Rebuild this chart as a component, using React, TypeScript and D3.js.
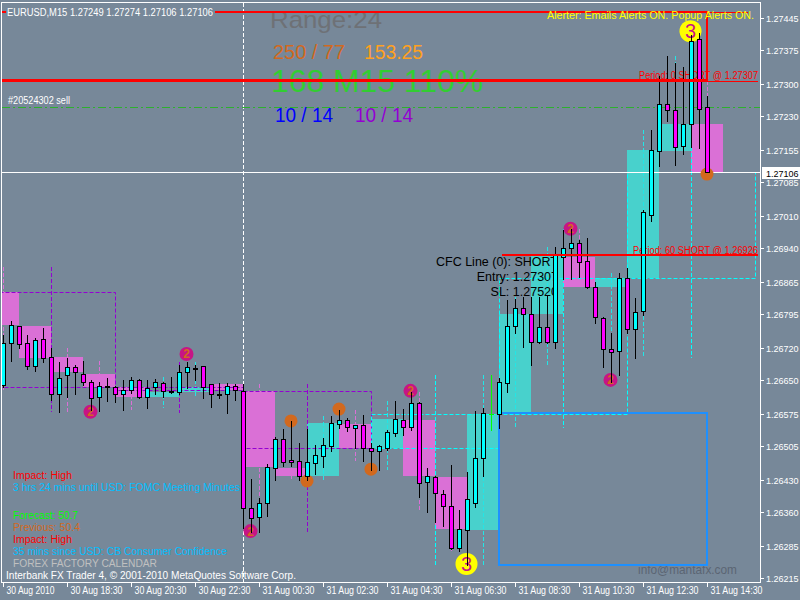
import React from "react";
import * as d3 from "d3";

// M15 bars, first entry is bar index -2 (off the left edge)
const FIRST_BAR = -2;
const opens = [
  1.26843, 1.26771, 1.26639, 1.26731, 1.26768, 1.26731, 1.26681, 1.2674, 1.267, 1.26619,
  1.26661, 1.26678, 1.26663, 1.26645, 1.26613, 1.26637, 1.26634, 1.26619, 1.26628, 1.2665,
  1.26613, 1.26634, 1.26643, 1.26626, 1.26624, 1.26667, 1.26676, 1.26681, 1.26641, 1.26619,
  1.26619, 1.26637, 1.26626, 1.26369, 1.26349, 1.2638, 1.26457, 1.2652, 1.26474, 1.26472,
  1.26439, 1.26468, 1.26483, 1.26505, 1.26553, 1.26562, 1.26544, 1.26551, 1.26501, 1.26494,
  1.26501, 1.26533, 1.26562, 1.26547, 1.26599, 1.26426, 1.26437, 1.26399, 1.26373, 1.26281,
  1.2632, 1.2638, 1.26479, 1.26575, 1.26575, 1.26643, 1.26768, 1.26808, 1.26795, 1.26733,
  1.26766, 1.26733, 1.2692, 1.2694, 1.26951, 1.26911, 1.26854, 1.26786, 1.26718, 1.26714,
  1.26874, 1.26762, 1.26801, 1.27012, 1.27153, 1.27256, 1.27243, 1.27164, 1.27212, 1.27399,
  1.27249,
];
const highs = [
  1.26898, 1.26782, 1.26749, 1.26779, 1.26768, 1.26749, 1.26742, 1.26764, 1.2672, 1.26689,
  1.26698, 1.26683, 1.26692, 1.2665, 1.26645, 1.26654, 1.26637, 1.2665, 1.26656, 1.26652,
  1.2665, 1.26652, 1.26645, 1.26656, 1.26683, 1.26689, 1.26683, 1.26681, 1.26641, 1.26643,
  1.26643, 1.26641, 1.26641, 1.26432, 1.26391, 1.26465, 1.26525, 1.26542, 1.2656, 1.26511,
  1.26542, 1.26507, 1.26522, 1.26571, 1.26584, 1.26566, 1.26551, 1.26573, 1.26511, 1.26507,
  1.2654, 1.26604, 1.26586, 1.26624, 1.26602, 1.26457, 1.26439, 1.26408, 1.26463, 1.26364,
  1.26448, 1.26582, 1.26588, 1.26661, 1.26654, 1.26826, 1.26828, 1.26832, 1.26832, 1.26832,
  1.26837, 1.26942, 1.26979, 1.26982, 1.26957, 1.26962, 1.26865, 1.26788, 1.26753, 1.26885,
  1.26896, 1.2683, 1.27023, 1.27199, 1.27318, 1.27362, 1.27346, 1.27337, 1.27408, 1.27412,
  1.27274,
];
const lows = [
  1.2676, 1.26628, 1.26634, 1.26692, 1.2672, 1.26674, 1.2667, 1.26689, 1.26606, 1.2658,
  1.26613, 1.26619, 1.26639, 1.26584, 1.26582, 1.26604, 1.26602, 1.26584, 1.26621, 1.2661,
  1.26588, 1.26619, 1.26613, 1.26621, 1.26619, 1.26632, 1.2665, 1.2661, 1.26591, 1.2661,
  1.26577, 1.26606, 1.26325, 1.26316, 1.26316, 1.26351, 1.2643, 1.26461, 1.26461, 1.2643,
  1.2643, 1.26443, 1.26459, 1.26494, 1.26544, 1.26538, 1.26501, 1.26472, 1.26452, 1.26452,
  1.26496, 1.26527, 1.26529, 1.2654, 1.26393, 1.2636, 1.26338, 1.26329, 1.26279, 1.26274,
  1.26244, 1.26371, 1.26439, 1.2654, 1.26544, 1.26624, 1.26753, 1.26722, 1.26683, 1.26731,
  1.26731, 1.2672, 1.26872, 1.26872, 1.26876, 1.26852, 1.26775, 1.26678, 1.26645, 1.26661,
  1.26753, 1.26698, 1.26793, 1.26999, 1.2712, 1.27219, 1.27122, 1.27146, 1.27162, 1.27159,
  1.27106,
];
const closes = [
  1.26771, 1.26639, 1.26731, 1.26771, 1.26729, 1.26681, 1.26738, 1.26698, 1.26619, 1.26654,
  1.26678, 1.26667, 1.26645, 1.2661, 1.26637, 1.26634, 1.26619, 1.26628, 1.2665, 1.26613,
  1.26632, 1.26645, 1.26626, 1.26624, 1.26667, 1.26678, 1.26674, 1.26634, 1.26619, 1.26617,
  1.26637, 1.26628, 1.26369, 1.26347, 1.2638, 1.26459, 1.2652, 1.2647, 1.2647, 1.26439,
  1.2647, 1.26485, 1.26507, 1.26555, 1.26562, 1.26547, 1.26551, 1.26501, 1.26494, 1.26505,
  1.26536, 1.26564, 1.26547, 1.26599, 1.26424, 1.26439, 1.26402, 1.26373, 1.26281, 1.26323,
  1.26389, 1.26479, 1.26577, 1.26575, 1.26645, 1.26768, 1.26808, 1.26795, 1.26733, 1.26766,
  1.26733, 1.26924, 1.2694, 1.26951, 1.26909, 1.26854, 1.26788, 1.26718, 1.26711, 1.26874,
  1.26762, 1.26799, 1.27019, 1.27155, 1.27256, 1.27243, 1.27162, 1.27212, 1.27394, 1.27245,
  1.27106,
];

const priceLabels = [
  "1.27445", "1.27375", "1.27300", "1.27230", "1.27155", "1.27085", "1.27010", "1.26940",
  "1.26865", "1.26795", "1.26720", "1.26650", "1.26575", "1.26505", "1.26430", "1.26360",
  "1.26285", "1.26215",
];
const timeLabelBars = [0, 8, 16, 24, 32, 40, 48, 56, 64, 72, 80, 88];
const timeLabels = [
  "30 Aug 2010", "30 Aug 18:30", "30 Aug 20:30", "30 Aug 22:30", "31 Aug 00:30", "31 Aug 02:30",
  "31 Aug 04:30", "31 Aug 06:30", "31 Aug 08:30", "31 Aug 10:30", "31 Aug 12:30", "31 Aug 14:30",
];

// signal markers
const marker2Bars = [11, 23, 31, 51, 71, 76];
const marker2Prices = [1.2658, 1.26707, 1.26318, 1.26626, 1.26982, 1.2665];
const marker1Bars = [36, 38, 42, 46, 88];
const marker1Prices = [1.2656, 1.26428, 1.26586, 1.26454, 1.27102];
const marker3Bars = [86, 58];
const marker3Prices = [1.27416, 1.26246];

const currentPrice = 1.27106;
const orderPrice = 1.2725;
const period0Price = 1.27307;
const period60Price = 1.26926;
const redBoxTop = 1.27458;
const redBoxBottom = 1.27309;
const redBoxEndBar = 88;
const blueBoxTop = 1.26577;
const blueBoxBottom = 1.26244;
const blueBoxStartBar = 62;
const blueBoxEndBar = 88;
const daySeparatorBar = 30;

const calendarLines = [
  { text: "Impact: High", color: "#FF0000", y: 479, len: 59 },
  { text: "3 hrs 24 mins until USD: FOMC Meeting Minutes", color: "#00BFFF", y: 491, len: 227 },
  { text: "Forecast: 50.7", color: "#00FF00", y: 519, len: 65 },
  { text: "Previous: 50.4", color: "#D2691E", y: 531, len: 67 },
  { text: "Impact: High", color: "#FF0000", y: 543, len: 59 },
  { text: "35 mins since USD: CB Consumer Confidence", color: "#00BFFF", y: 555, len: 214 },
  { text: "FOREX FACTORY CALENDAR", color: "#C0C0C0", y: 567, len: 144 },
];

const FONT = "'Liberation Sans', Arial, sans-serif";
const BG = "#778899";
const BULL = "#00FFFF";
const BEAR = "#FF00FF";
const BOX_BULL = "#48D1CC";
const BOX_BEAR = "#DA70D6";

export default function App() {
  const x = d3.scaleLinear().domain([0, 88]).range([3.5, 707.5]);
  const y = d3.scaleLinear().domain([1.26204, 1.2748]).range([583, 2]);
  const ry = (p: number) => Math.round(y(p));

  const bars = opens.map((o, i) => ({ k: i + FIRST_BAR, o, h: highs[i], l: lows[i], c: closes[i] }));

  const group = (size: number, offset: number) =>
    d3.groups(bars, (b) => Math.floor((b.k - offset) / size)).map(([g, bs]) => ({
      start: offset + size * g,
      size,
      o: bs[0].o,
      c: bs[bs.length - 1].c,
      h: d3.max(bs, (b) => b.h) as number,
      l: d3.min(bs, (b) => b.l) as number,
    }));
  const h1 = group(4, 2);
  const h4 = group(16, 14);

  const dash = "4,2";

  return (
    <svg
      width={800}
      height={600}
      style={{ position: "absolute", left: 0, top: 0, display: "block" }}
      fontFamily={FONT}
    >
      <defs>
        <clipPath id="plot">
          <rect x={2} y={3} width={758} height={580} />
        </clipPath>
      </defs>
      <rect x={0} y={0} width={800} height={600} fill={BG} />

      <g clipPath="url(#plot)">
        {/* H1 boxes */}
        {h1.map((b, i) => {
          const x0 = Math.floor(x(b.start));
          const x1 = Math.floor(x(b.start + b.size));
          const y0 = ry(Math.max(b.o, b.c));
          const y1 = ry(Math.min(b.o, b.c));
          return (
            <rect key={"h1" + i} x={x0} y={y0} width={x1 - x0} height={Math.max(y1 - y0, 1)}
              fill={b.c > b.o ? BOX_BULL : BOX_BEAR} />
          );
        })}
        {/* H1 wicks */}
        {h1.map((b, i) => (
          <line key={"h1w" + i} x1={x(b.start + 2)} x2={x(b.start + 2)} y1={ry(b.h)} y2={ry(b.l)}
            stroke={b.c > b.o ? "#22E6E6" : BOX_BEAR} strokeDasharray={dash} />
        ))}
        {/* H4 outlines */}
        {h4.map((b, i) => {
          const col = b.c > b.o ? BULL : "#9400D3";
          const x0 = x(b.start);
          const x1 = x(b.start + b.size);
          const y0 = ry(Math.max(b.o, b.c)) + 0.5;
          const y1 = ry(Math.min(b.o, b.c)) + 0.5;
          return (
            <g key={"h4" + i}>
              <rect x={x0} y={y0} width={x1 - x0} height={Math.max(y1 - y0, 1)} fill="none"
                stroke={col} strokeDasharray={dash} />
              <line x1={x(b.start + 8)} x2={x(b.start + 8)} y1={ry(b.h)} y2={ry(b.l)}
                stroke={col} strokeDasharray={dash} />
            </g>
          );
        })}

        {/* day separator */}
        <line x1={x(daySeparatorBar)} x2={x(daySeparatorBar)} y1={3} y2={583} stroke="#FFFFFF" strokeDasharray="4,2" />
        {/* order line */}
        <line x1={2} x2={760} y1={ry(orderPrice) + 0.5} y2={ry(orderPrice) + 0.5} stroke="#2DB02D" strokeDasharray="8,3,2,3" />
        <text x={8} y={104} fontSize={10} fill="#FFFFFF" textLength={62} lengthAdjust="spacingAndGlyphs">#20524302 sell</text>
        {/* bid line */}
        <line x1={2} x2={760} y1={ry(currentPrice) + 0.5} y2={ry(currentPrice) + 0.5} stroke="#FFFFFF" />

        {/* info block */}
        <text x={270} y={28} fontSize={24} fill="#6E7176" textLength={112} lengthAdjust="spacingAndGlyphs">Range:24</text>
        <text x={273} y={59} fontSize={20} fill="#D2691E" textLength={72} lengthAdjust="spacingAndGlyphs">250 / 77</text>
        <text x={364} y={59} fontSize={20} fill="#FFA01E" textLength={59} lengthAdjust="spacingAndGlyphs">153.25</text>
        <text x={271} y={92} fontSize={32} fill="#32CD32" textLength={212} lengthAdjust="spacingAndGlyphs">168 M15 110%</text>
        <text x={275} y={122} fontSize={20} fill="#0000FF" textLength={58} lengthAdjust="spacingAndGlyphs">10 / 14</text>
        <text x={355} y={122} fontSize={20} fill="#9400D3" textLength={58} lengthAdjust="spacingAndGlyphs">10 / 14</text>

        {/* CFC text */}
        <g fontSize={12.5} fill="#000000" textAnchor="end">
          <text x={558} y={266}>CFC Line (0): SHORT</text>
          <text x={558} y={281}>Entry: 1.27307</text>
          <text x={558} y={296}>SL: 1.27520</text>
        </g>

        {/* period labels */}
        <text x={639} y={79} fontSize={10} fill="#FF0000" textLength={119} lengthAdjust="spacingAndGlyphs">Period: 0 SHORT @ 1.27307</text>
        <text x={633} y={254} fontSize={10} fill="#FF0000" textLength={125} lengthAdjust="spacingAndGlyphs">Period: 60 SHORT @ 1.26926</text>

        {/* calendar */}
        {calendarLines.map((t, i) => (
          <text key={"cal" + i} x={13} y={t.y} fontSize={10} fill={t.color} textLength={t.len} lengthAdjust="spacingAndGlyphs">{t.text}</text>
        ))}
        <text x={6} y={579} fontSize={10} fill="#FFFFFF" textLength={290} lengthAdjust="spacingAndGlyphs">Interbank FX Trader 4, © 2001-2010 MetaQuotes Software Corp.</text>
        <text x={638} y={574} fontSize={13} fill="#5B6573" textLength={99} lengthAdjust="spacingAndGlyphs">info@mantafx.com</text>

        {/* blue box */}
        <rect x={x(blueBoxStartBar) - 0.5} y={ry(blueBoxTop)} width={x(blueBoxEndBar) - x(blueBoxStartBar)}
          height={ry(blueBoxBottom) - ry(blueBoxTop)} fill="none" stroke="#1E90FF" strokeWidth={2} />

        {/* markers */}
        {marker2Bars.map((k, i) => (
          <g key={"m2" + i}>
            <circle cx={x(k) - 1} cy={y(marker2Prices[i])} r={7} fill="#C71585" />
            <text x={x(k) - 1} y={y(marker2Prices[i]) + 4.5} fontSize={12} fontWeight="bold" fill="#D2691E" textAnchor="middle">2</text>
          </g>
        ))}
        {marker1Bars.map((k, i) => (
          <circle key={"m1" + i} cx={x(k) - 0.5} cy={y(marker1Prices[i])} r={6.5} fill="#D2691E" />
        ))}
        {marker3Bars.map((k, i) => (
          <g key={"m3" + i}>
            <circle cx={x(k) - 1} cy={y(marker3Prices[i])} r={11} fill="#FFFF00" />
            <text x={x(k) - 1} y={y(marker3Prices[i]) + 7} fontSize={20} fill="#C71585" textAnchor="middle">3</text>
          </g>
        ))}

        {/* candles */}
        {bars.map((b) => {
          const cx = x(b.k);
          if (b.o === b.c) {
            const yy = ry(b.o) + 0.5;
            return (
              <g key={"c" + b.k} stroke="#00FF00">
                <line x1={cx} x2={cx} y1={ry(b.h)} y2={ry(b.l) + 1} />
                <line x1={cx - 2.5} x2={cx + 2.5} y1={yy} y2={yy} />
              </g>
            );
          }
          const yo = ry(b.o);
          const yc = ry(b.c);
          const top = Math.min(yo, yc);
          const bot = Math.max(yo, yc);
          return (
            <g key={"c" + b.k}>
              <line x1={cx} x2={cx} y1={ry(b.h)} y2={ry(b.l) + 1} stroke="#000000" />
              <rect x={cx - 2} y={top + 0.5} width={4} height={Math.max(bot - top, 1)}
                fill={b.c > b.o ? BULL : BEAR} stroke="#000000" />
            </g>
          );
        })}

        {/* red lines */}
        <line x1={2} x2={748} y1={12.5} y2={12.5} stroke="#FF0000" />
        <line x1={2} x2={758} y1={ry(period0Price) + 0.5} y2={ry(period0Price) + 0.5} stroke="#FF0000" />
        <line x1={502} x2={758} y1={ry(period60Price) + 1} y2={ry(period60Price) + 1} stroke="#FF0000" strokeWidth={2} />
        <rect x={1} y={ry(redBoxTop)} width={x(redBoxEndBar) - 0.5 - 1} height={ry(redBoxBottom) - ry(redBoxTop)}
          fill="none" stroke="#FF0000" strokeWidth={2} />
      </g>

      {/* header */}
      <rect x={6} y={5} width={209} height={13} fill={BG} />
      <text x={7} y={16} fontSize={10} fill="#FFFFFF" textLength={206} lengthAdjust="spacingAndGlyphs">EURUSD,M15  1.27249 1.27274 1.27106 1.27106</text>
      <text x={547} y={18.5} fontSize={10} fill="#FFFF00" textLength={207} lengthAdjust="spacingAndGlyphs">Alerter:  Emails Alerts ON.  Popup Alerts ON.</text>

      {/* frame */}
      <rect x={1.5} y={2.5} width={759} height={580} fill="none" stroke="#FFFFFF" />

      {/* right axis */}
      {priceLabels.map((s, i) => {
        const yy = ry(+s) + 0.5;
        return (
          <g key={"pl" + i}>
            <line x1={760.5} x2={764} y1={yy} y2={yy} stroke="#FFFFFF" />
            <text x={766} y={yy + 3.5} fontSize={9} fill="#FFFFFF">{s}</text>
          </g>
        );
      })}
      <rect x={762} y={ry(currentPrice) - 5} width={38} height={12} fill="#FFFFFF" />
      <text x={766} y={ry(currentPrice) + 4.5} fontSize={9} fill="#000000">1.27106</text>

      {/* bottom axis */}
      {timeLabelBars.map((k, i) => (
        <g key={"tl" + i}>
          <line x1={x(k)} x2={x(k)} y1={583} y2={587} stroke="#FFFFFF" />
          <text x={x(k) + 3} y={593.5} fontSize={10} fill="#FFFFFF"
            textLength={i === 0 ? 48 : 52} lengthAdjust="spacingAndGlyphs">{timeLabels[i]}</text>
        </g>
      ))}
    </svg>
  );
}
